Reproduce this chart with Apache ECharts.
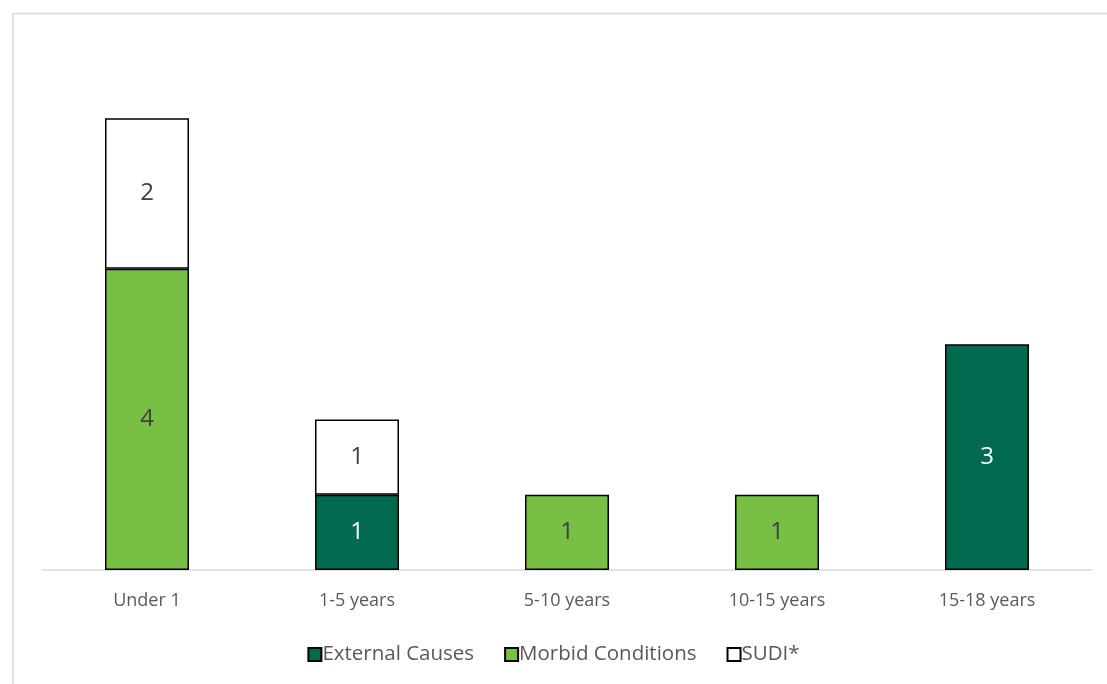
<!DOCTYPE html>
<html>
<head>
<meta charset="utf-8">
<script src="https://cdn.jsdelivr.net/npm/echarts@6/dist/echarts.min.js"></script>
<style>
  html, body { margin: 0; padding: 0; background: #fff; }
  #chart { width: 1107px; height: 684px; }
</style>
</head>
<body>
<div id="chart"></div>
<script>
// Deaths by age group and cause category
const categories = ['Under 1', '1-5 years', '5-10 years', '10-15 years', '15-18 years'];
const externalCauses = [null, 1, null, null, 3];
const morbidConditions = [4, null, 1, 1, null];
const sudi = [2, 1, null, null, null];

const textColor = '#595959';
const font = 'Open Sans, Liberation Sans, sans-serif';

function barSeries(name, data, color, labelColor) {
  return {
    name: name,
    type: 'bar',
    stack: 'total',
    data: data,
    barWidth: '40%',
    itemStyle: { color: color, borderColor: '#000', borderWidth: 1.5 },
    label: {
      show: true,
      position: 'inside',
      color: labelColor,
      fontSize: 24,
      fontFamily: font,
      formatter: p => (p.value == null ? '' : String(p.value))
    }
  };
}

const chart = echarts.init(document.getElementById('chart'), null, { renderer: 'canvas' });
chart.setOption({
  animation: false,
  backgroundColor: '#fff',
  graphic: [
    {
      type: 'polyline',
      shape: { points: [[13, 700], [13, 13.5], [1120, 13.5]] },
      style: { stroke: '#d9d9d9', lineWidth: 1.5, fill: null },
      silent: true
    }
  ],
  grid: { left: 42, right: 15, top: 43, bottom: 114, containLabel: false },
  legend: {
    bottom: 14,
    left: 'center',
    itemWidth: 13,
    itemHeight: 13,
    itemGap: 30,
    icon: 'rect',
    textStyle: { color: textColor, fontSize: 20.5, fontFamily: font, padding: [0, 0, 0, -4] },
    data: ['External Causes', 'Morbid Conditions', 'SUDI*']
  },
  xAxis: {
    type: 'category',
    data: categories,
    axisLine: { lineStyle: { color: '#d9d9d9', width: 1.5 } },
    axisTick: { show: false },
    axisLabel: { color: textColor, fontSize: 18, fontFamily: font, margin: 22 }
  },
  yAxis: {
    type: 'value',
    min: 0,
    max: 7,
    interval: 1,
    show: false,
    splitLine: { show: false }
  },
  series: [
    barSeries('External Causes', externalCauses, '#026A4F', '#ffffff'),
    barSeries('Morbid Conditions', morbidConditions, '#78BF45', '#404040'),
    barSeries('SUDI*', sudi, '#ffffff', '#404040')
  ]
});
</script>
</body>
</html>
